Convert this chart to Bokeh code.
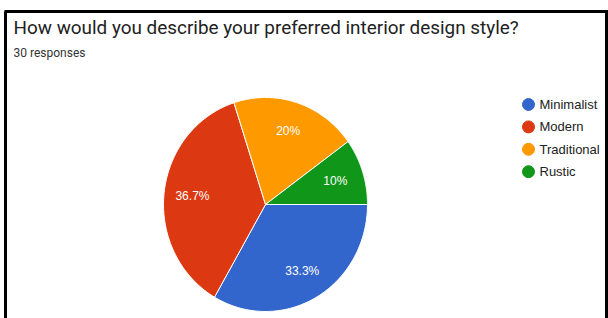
import numpy as np
from bokeh.plotting import figure
from bokeh.models import Range1d, ColumnDataSource
from bokeh.core.properties import value
from bokeh.embed import file_html
from bokeh.resources import INLINE

# ---- data ----
title = "How would you describe your preferred interior design style?"
subtitle = "30 responses"
categories = ["Minimalist", "Modern", "Traditional", "Rustic"]
counts = [10, 11, 6, 3]
colors = ["#3366cc", "#dc3912", "#ff9900", "#109618"]

W, H = 608, 318  # data y = H - picture y
p = figure(width=W, height=H, x_range=Range1d(0, W), y_range=Range1d(0, H),
           output_backend="svg", toolbar_location=None, min_border=0)
p.axis.visible = False
p.grid.visible = False
p.outline_line_color = None
p.background_fill_color = "white"
p.border_fill_color = "white"

# frame border (screenshot frame: top, left, right)
p.multi_line(xs=[[4, 608], [5, 5], [606, 606]],
             ys=[[H - 11, H - 11], [H - 11, -5], [H - 11, -5]],
             line_color="black", line_width=3)

# title
p.text(x=[13], y=[H - 27], text=[title], text_font=value("Roboto"),
       text_font_size="18.9px", text_color="#222222", text_baseline="middle")
p.text(x=[13], y=[H - 52], text=[subtitle], text_font=value("Roboto"),
       text_font_size="12px", text_color="#333333", text_baseline="middle")

# pie (slightly elliptical like the reference)
cx, cy = 265, H - 204
rx, ry = 102, 107
total = sum(counts)
cum = np.cumsum([0] + counts)
xs, ys, lx, ly, labels = [], [], [], [], []
for i, c in enumerate(counts):
    a0 = -2 * np.pi * cum[i] / total
    a1 = -2 * np.pi * cum[i + 1] / total
    t = np.linspace(a0, a1, 100)
    xs.append([cx] + list(cx + rx * np.cos(t)) + [cx])
    ys.append([cy] + list(cy + ry * np.sin(t)) + [cy])
    am = (a0 + a1) / 2
    lx.append(cx + 0.72 * rx * np.cos(am))
    ly.append(cy + 0.72 * ry * np.sin(am))
    pct = 100 * c / total
    labels.append(f"{pct:.1f}%".replace(".0%", "%"))

src = ColumnDataSource(dict(xs=xs, ys=ys, color=colors))
p.patches("xs", "ys", source=src, fill_color="color", line_color="white",
          line_width=1)
p.text(x=lx, y=ly, text=labels, text_font=value("Liberation Sans"),
       text_font_size="12px", text_color="white", text_align="center",
       text_baseline="middle")

# legend
ly0 = [H - (104 + 22.4 * i) for i in range(len(categories))]
p.scatter(x=[528] * len(categories), y=ly0, size=12, color=colors)
p.text(x=[539] * len(categories), y=ly0, text=categories,
       text_font=value("Liberation Sans"), text_font_size="13px",
       text_color="#222222", text_baseline="middle")

open("out.html", "w").write(file_html(p, INLINE))
